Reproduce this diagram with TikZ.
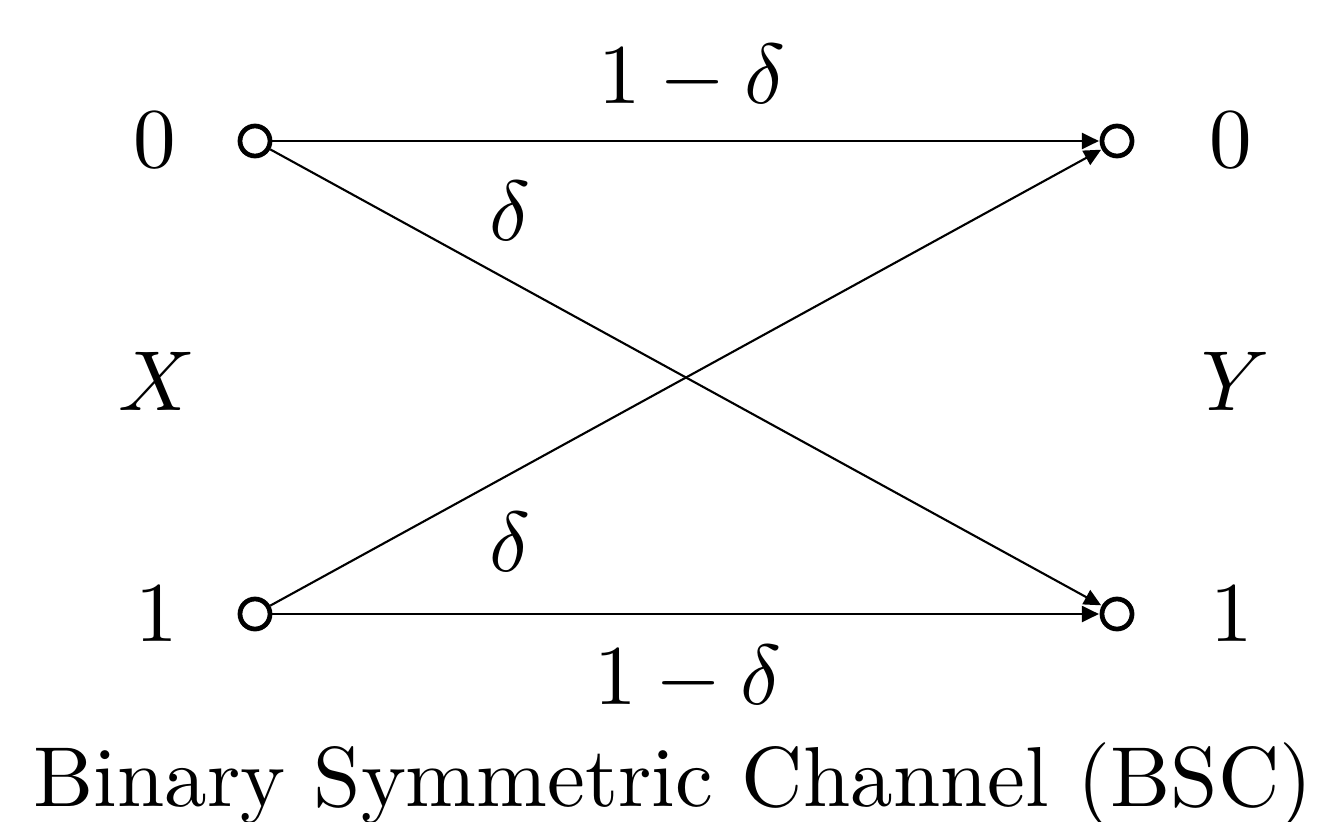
\documentclass[tikz,border=0pt]{standalone}
\usepackage{graphicx}
\usetikzlibrary{arrows.meta,positioning}
\newcommand{\chtext}[1]{\scalebox{2.42}{#1}}
\tikzset{
  sym/.style={draw, circle, line width=1.35pt, minimum size=0.3cm, inner sep=0pt},
  lbl/.style={inner sep=0pt},
  trans/.style={-{Triangle[length=1.7mm, width=1.6mm]}, line width=0.6pt, shorten >=0.2pt},
}
\begin{document}
\begin{tikzpicture}[x=0.01cm, y=-0.01cm]
    \useasboundingbox (0,0) rectangle (1327,821);
    % --- input / output symbols ---
    \node[sym] (x0) at (255,141) {};
    \node[sym] (x1) at (255,614) {};
    \node[sym] (y0) at (1117,141) {};
    \node[sym] (y1) at (1117,614) {};
    \node[lbl] (x0l) at (155,140) {\chtext{$0$}};
    \node[lbl] (x1l) at (157,614) {\chtext{$1$}};
    \node[lbl] (y0l) at (1231,140) {\chtext{$0$}};
    \node[lbl] (y1l) at (1232,614) {\chtext{$1$}};
    \node[lbl] (xl) at (157,381) {\chtext{$X$}};
    \node[lbl] (yl) at (1236,381) {\chtext{$Y$}};
    % --- transitions ---
    \draw[trans] (x0) -- (y0);
    \draw[trans] (x1) -- (y1);
    \draw[trans] (x0) -- (y1);
    \draw[trans] (x1) -- (y0);
    \node[lbl] (p00) at (692,77) {\chtext{$1-\delta$}};
    \node[lbl] (p11) at (688,678) {\chtext{$1-\delta$}};
    \node[lbl] (p01) at (510,211) {\chtext{$\delta$}};
    \node[lbl] (p10) at (510,542) {\chtext{$\delta$}};
    \node[lbl, anchor=base] (title) at (673,806) {\chtext{Binary Symmetric Channel (BSC)}};
\end{tikzpicture}
\end{document}
